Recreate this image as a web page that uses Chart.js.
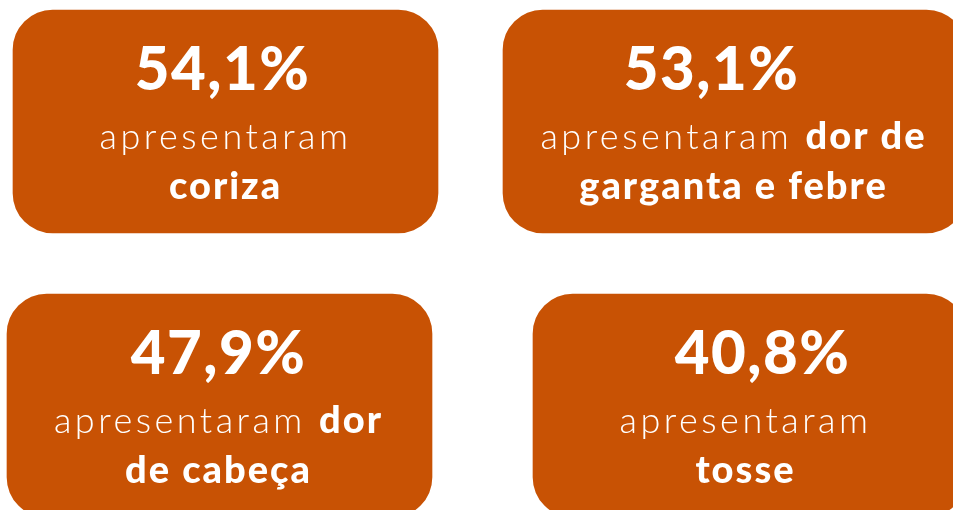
<!DOCTYPE html>
<html><head><meta charset="utf-8">
<script src="https://cdn.jsdelivr.net/npm/chart.js@4.4.0/dist/chart.umd.min.js"></script>
<style>html,body{margin:0;padding:0;background:#fff;overflow:hidden}#wrap{width:953px;height:510px}</style>
</head><body><div id="wrap"><canvas id="c" width="953" height="510"></canvas></div>
<script>
// ---- data ----
const percentages = [54.1, 53.1, 47.9, 40.8];
const leadWords = ['apresentaram', 'apresentaram', 'apresentaram', 'apresentaram'];
const symptoms = ['coriza', 'dor de garganta e febre', 'dor de cabeça', 'tosse'];

// ---- layout (pixels) ----
const wordsOnFirstLine = [0, 2, 1, 0];
const cardLeft = [13, 503, 7, 533];
const cardRight = [438, 966, 432, 966];
const cardCenterY = [121.5, 121.5, 405.5, 405.5];
const pctDx = [-3, -23, -1, 13];
const lineDx = [0, -1, -1, -4];
const CARD_COLOR = '#C85204';

const F_PCT = {font: '900 60px Lato', ls: '1.5px'};
const F_LIGHT = {font: '300 36px Lato', ls: '3.5px'};
const F_BOLD = {font: '900 38px Lato', ls: '2px'};

function fmtPct(v){ return v.toFixed(1).replace('.', ',') + '%'; }

function drawSegments(ctx, segs, cx, baseline){
  let widths = segs.map(s => { ctx.font = s.f.font; ctx.letterSpacing = s.f.ls; return ctx.measureText(s.t).width; });
  const total = widths.reduce((a,b)=>a+b,0);
  let x = cx - total/2;
  segs.forEach((s,i)=>{ ctx.font = s.f.font; ctx.letterSpacing = s.f.ls; ctx.fillText(s.t, x, baseline); x += widths[i]; });
}

const cardText = {
  id: 'cardText',
  afterDatasetsDraw(chart){
    const ctx = chart.ctx;
    const meta = chart.getDatasetMeta(0);
    ctx.save();
    ctx.fillStyle = '#ffffff';
    ctx.textAlign = 'left';
    ctx.textBaseline = 'alphabetic';
    meta.data.forEach((bar, i) => {
      const p = bar.getProps(['x','y','base','height'], true);
      const cx = (p.x + p.base)/2;
      const top = p.y - p.height/2;
      drawSegments(ctx, [{t: fmtPct(percentages[i]), f: F_PCT}], cx + pctDx[i], top + 80);
      const words = symptoms[i].split(' ');
      const first = words.slice(0, wordsOnFirstLine[i]).join(' ');
      const rest = words.slice(wordsOnFirstLine[i]).join(' ');
      const l1 = [{t: leadWords[i], f: F_LIGHT}];
      if (first) l1.push({t: ' ', f: F_LIGHT}, {t: first, f: F_BOLD});
      drawSegments(ctx, l1, cx + lineDx[i], top + 139);
      drawSegments(ctx, [{t: rest, f: F_BOLD}], cx + lineDx[i], top + 189);
    });
    ctx.restore();
  }
};

new Chart(document.getElementById('c'), {
  type: 'bar',
  data: {
    datasets: [{
      label: 'sintomas',
      data: percentages.map((v, i) => ({x: [cardLeft[i], cardRight[i]], y: cardCenterY[i], pct: v})),
      backgroundColor: CARD_COLOR,
      borderRadius: 40,
      borderSkipped: false,
      barThickness: 223,
      grouped: false
    }]
  },
  options: {
    indexAxis: 'y',
    responsive: false,
    animation: false,
    layout: {padding: 0},
    plugins: {legend: {display: false}, tooltip: {enabled: false}, title: {display: false}},
    scales: {
      x: {type: 'linear', min: 0, max: 953, display: false, offset: false},
      y: {type: 'linear', min: 0, max: 510, reverse: true, display: false, offset: false}
    }
  },
  plugins: [cardText]
});
</script></body></html>
